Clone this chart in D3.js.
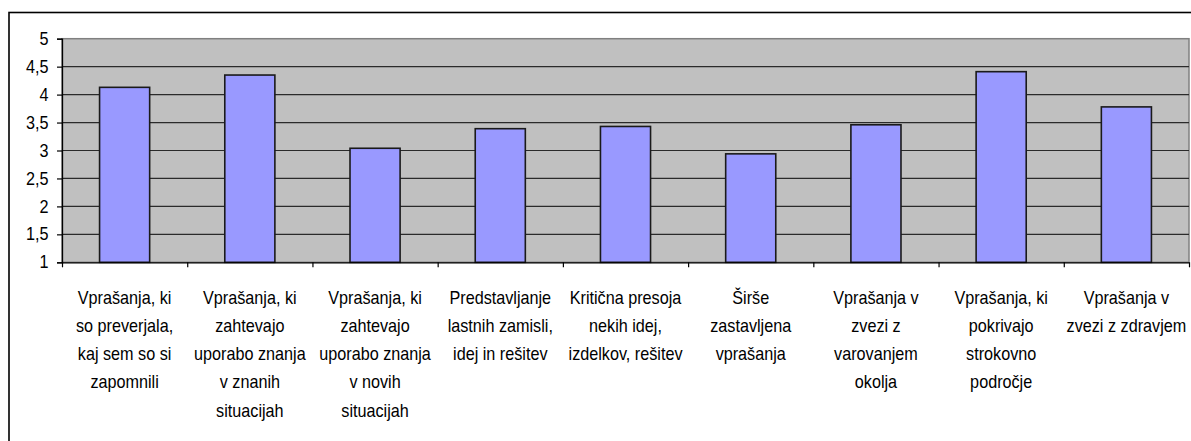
<!DOCTYPE html>
<html>
<head>
<meta charset="utf-8">
<script src="https://cdn.jsdelivr.net/npm/d3@7"></script>
<style>
  html, body { margin: 0; padding: 0; background: #fff; }
  svg { display: block; }
  text { font-family: "Liberation Sans", Arial, sans-serif; fill: #000; }
</style>
</head>
<body>
<svg id="chart" width="1191" height="441"></svg>
<script>
// Question types (each label split into its displayed lines)
const categories = [
  ["Vprašanja, ki", "so preverjala,", "kaj sem so si", "zapomnili"],
  ["Vprašanja, ki", "zahtevajo", "uporabo znanja", "v znanih", "situacijah"],
  ["Vprašanja, ki", "zahtevajo", "uporabo znanja", "v novih", "situacijah"],
  ["Predstavljanje", "lastnih zamisli,", "idej in rešitev"],
  ["Kritična presoja", "nekih idej,", "izdelkov, rešitev"],
  ["Širše", "zastavljena", "vprašanja"],
  ["Vprašanja v", "zvezi z", "varovanjem", "okolja"],
  ["Vprašanja, ki", "pokrivajo", "strokovno", "področje"],
  ["Vprašanja v", "zvezi z zdravjem"]
];

// Average scores
const values = [4.13, 4.35, 3.04, 3.39, 3.43, 2.94, 3.46, 4.41, 3.78];

// Value axis ticks
const yTicks = [1, 1.5, 2, 2.5, 3, 3.5, 4, 4.5, 5];
const yTickLabels = ["1", "1,5", "2", "2,5", "3", "3,5", "4", "4,5", "5"];

const svg = d3.select("#chart");

const plot = { left: 62, right: 1189, top: 38.7, bottom: 262.3 };
const fontSize = 18;
const narrow = 0.9; // horizontal squeeze of the label glyphs

const ids = categories.map((d, i) => i);

const x = d3.scaleBand()
  .domain(ids)
  .range([plot.left, plot.right])
  .paddingInner(0.6)
  .paddingOuter(0.3);

// Category boundaries for the tick marks
const xb = d3.scaleLinear().domain([0, categories.length]).range([plot.left, plot.right]);

const y = d3.scaleLinear().domain([1, 5]).range([plot.bottom, plot.top]);

// Outer chart frame
svg.append("rect")
  .attr("x", 9).attr("y", 12.5)
  .attr("width", 1300).attr("height", 600)
  .attr("fill", "none").attr("stroke", "#000").attr("stroke-width", 1.6);

// Plot background
svg.append("rect")
  .attr("x", plot.left).attr("y", plot.top)
  .attr("width", plot.right - plot.left).attr("height", plot.bottom - plot.top)
  .attr("fill", "#c0c0c0")
  .attr("stroke", "#808080").attr("stroke-width", 1.5);

// Horizontal gridlines
svg.append("g")
  .selectAll("line")
  .data(yTicks.filter(t => t > 1 && t < 5))
  .join("line")
  .attr("x1", plot.left).attr("x2", plot.right)
  .attr("y1", d => y(d)).attr("y2", d => y(d))
  .attr("stroke", "#2a2a2a").attr("stroke-width", 1.2);

// Bars
svg.append("g")
  .selectAll("rect")
  .data(values)
  .join("rect")
  .attr("x", (d, i) => x(i))
  .attr("y", d => y(d))
  .attr("width", x.bandwidth())
  .attr("height", d => y(1) - y(d))
  .attr("fill", "#9999ff")
  .attr("stroke", "#1a1a1a").attr("stroke-width", 1.6);

// Value axis
const yAxis = svg.append("g")
  .attr("transform", `translate(${plot.left},0)`)
  .call(d3.axisLeft(y)
    .tickValues(yTicks)
    .tickFormat("")
    .tickSize(5));
yAxis.select(".domain").attr("stroke", "#000").attr("stroke-width", 1.3);
yAxis.selectAll(".tick line").attr("stroke", "#000").attr("stroke-width", 1.2);

// Value labels, right-aligned beside the ticks
svg.append("g")
  .selectAll("text")
  .data(yTicks)
  .join("text")
  .attr("text-anchor", "end")
  .attr("font-size", fontSize + "px")
  .attr("transform", d => `translate(48.5,${y(d)}) scale(${narrow},1)`)
  .attr("dy", "0.34em")
  .text((d, i) => yTickLabels[i]);

// Category axis with ticks between categories
const xAxis = svg.append("g")
  .attr("transform", `translate(0,${plot.bottom})`)
  .call(d3.axisBottom(xb)
    .tickValues(d3.range(categories.length + 1))
    .tickFormat("")
    .tickSize(5)
    .tickSizeOuter(0));
xAxis.select(".domain").attr("stroke", "#000").attr("stroke-width", 1.3);
xAxis.selectAll(".tick line").attr("stroke", "#000").attr("stroke-width", 1.2);

// Category labels, wrapped over several lines
const labels = svg.append("g")
  .selectAll("text")
  .data(categories)
  .join("text")
  .attr("text-anchor", "middle")
  .attr("font-size", fontSize + "px")
  .attr("transform", (d, i) => `translate(${x(i) + x.bandwidth() / 2},303.5) scale(${narrow},1)`);

labels.selectAll("tspan")
  .data(d => d)
  .join("tspan")
  .attr("x", 0)
  .attr("dy", (d, i) => i === 0 ? 0 : 28.3)
  .text(d => d);
</script>
</body>
</html>
